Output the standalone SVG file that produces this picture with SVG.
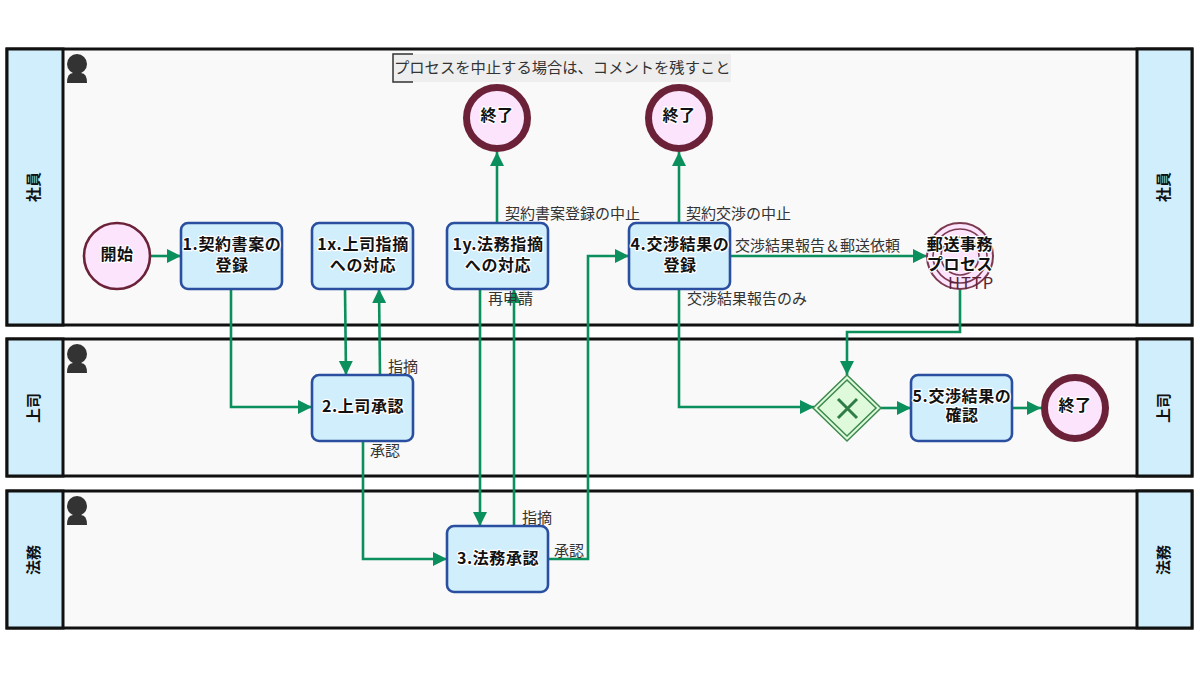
<svg xmlns="http://www.w3.org/2000/svg" width="1200" height="675" viewBox="0 0 1200 675">
<style>
text{font-family:"Noto Sans CJK JP","Liberation Sans",sans-serif}
.lane{fill:#f9f9f9;stroke:#111;stroke-width:3}
.head{fill:#d1eefc;stroke:#111;stroke-width:3}
.ht{font-size:15px;font-weight:700;fill:#111;text-anchor:middle}
.task{fill:#d1eefc;stroke:#2a4fa0;stroke-width:2.6}
.nt{font-size:16px;letter-spacing:.6px;font-weight:700;fill:#111;text-anchor:middle;paint-order:stroke;stroke:#fff;stroke-width:2.5px;stroke-linejoin:round}
.start{fill:#fde4fd;stroke:#6b2238;stroke-width:2.6}
.end{fill:#fde4fd;stroke:#6b2238;stroke-width:7}
.c{fill:none;stroke:#0b8f5c;stroke-width:2.6}
.l{font-size:15px;fill:#333}
.p{fill:#333}
</style>
<defs>
<marker id="a" markerUnits="userSpaceOnUse" markerWidth="15" markerHeight="15" refX="14" refY="7.5" orient="auto"><path d="M0 0.5L14 7.5L0 14.5Z" fill="#0b8f5c"/></marker>
<g id="person"><circle cx="77" cy="64" r="10"/><path d="M67 83Q67 73 73 73H81Q87 73 87 83Z"/></g>
</defs>
<g id="lane-1"><rect class="lane" x="7" y="49" width="1185" height="276"/><rect class="head" x="7" y="49" width="56" height="276"/><rect class="head" x="1137" y="49" width="55" height="276"/>
<text class="ht" transform="translate(34 187) rotate(-90)" y="5">社員</text><text class="ht" transform="translate(1164 187) rotate(-90)" y="5">社員</text><use href="#person" class="p"/></g>
<g id="lane-2"><rect class="lane" x="7" y="339" width="1185" height="137"/><rect class="head" x="7" y="339" width="56" height="137"/><rect class="head" x="1137" y="339" width="55" height="137"/>
<text class="ht" transform="translate(34 408) rotate(-90)" y="5">上司</text><text class="ht" transform="translate(1164 408) rotate(-90)" y="5">上司</text><use href="#person" class="p" y="290"/></g>
<g id="lane-3"><rect class="lane" x="7" y="491" width="1185" height="137"/><rect class="head" x="7" y="491" width="56" height="137"/><rect class="head" x="1137" y="491" width="55" height="137"/>
<text class="ht" transform="translate(34 560) rotate(-90)" y="5">法務</text><text class="ht" transform="translate(1164 560) rotate(-90)" y="5">法務</text><use href="#person" class="p" y="442"/></g>
<g id="connectors">
<path class="c" marker-end="url(#a)" d="M151 256H181"/>
<path class="c" marker-end="url(#a)" d="M231 289V407H312"/>
<path class="c" marker-end="url(#a)" d="M345 289L346 375"/>
<path class="c" marker-end="url(#a)" d="M380 375L379 289"/>
<path class="c" marker-end="url(#a)" d="M363 441V559H447"/>
<path class="c" marker-end="url(#a)" d="M480 289V526"/>
<path class="c" marker-end="url(#a)" d="M514 526V289"/>
<path class="c" marker-end="url(#a)" d="M497 223V152"/>
<path class="c" marker-end="url(#a)" d="M548 559H588V256H629"/>
<path class="c" marker-end="url(#a)" d="M679 223V152"/>
<path class="c" marker-end="url(#a)" d="M730 256H927"/>
<path class="c" marker-end="url(#a)" d="M679 289V407H814"/>
<path class="c" marker-end="url(#a)" d="M960 289V332H847V375"/>
<path class="c" marker-end="url(#a)" d="M881 408H911"/>
<path class="c" marker-end="url(#a)" d="M1012 408H1041"/>
</g>
<g id="note"><rect x="393" y="54" width="338" height="28" fill="#eee"/><path d="M413 54H393V82H413" fill="none" stroke="#333" stroke-width="1.5"/><text x="394" y="73" font-size="15.3" fill="#333">プロセスを中止する場合は、コメントを残すこと</text></g>
<g id="start"><circle class="start" cx="117" cy="256" r="33"/><text class="nt" x="117" y="260">開始</text></g>
<g id="task-1"><rect class="task" x="181" y="223" width="101" height="66" rx="7"/><text class="nt" x="232" y="250">1.契約書案の</text><text class="nt" x="232" y="271">登録</text></g>
<g id="task-1x"><rect class="task" x="312" y="223" width="101" height="66" rx="7"/><text class="nt" x="363" y="250">1x.上司指摘</text><text class="nt" x="363" y="271">への対応</text></g>
<g id="task-1y"><rect class="task" x="447" y="223" width="101" height="66" rx="7"/><text class="nt" x="498" y="250">1y.法務指摘</text><text class="nt" x="498" y="271">への対応</text></g>
<g id="task-4"><rect class="task" x="629" y="223" width="101" height="66" rx="7"/><text class="nt" x="680" y="250">4.交渉結果の</text><text class="nt" x="680" y="271">登録</text></g>
<g id="task-2"><rect class="task" x="312" y="375" width="101" height="66" rx="7"/><text class="nt" x="363" y="412">2.上司承認</text></g>
<g id="task-3"><rect class="task" x="447" y="526" width="101" height="66" rx="7"/><text class="nt" x="498" y="564">3.法務承認</text></g>
<g id="task-5"><rect class="task" x="911" y="375" width="101" height="66" rx="7"/><text class="nt" x="962" y="402">5.交渉結果の</text><text class="nt" x="962" y="421">確認</text></g>
<g id="end-1"><circle class="end" cx="497" cy="118" r="30.5"/><text class="nt" x="497" y="121">終了</text></g>
<g id="end-2"><circle class="end" cx="679" cy="118" r="30.5"/><text class="nt" x="679" y="121">終了</text></g>
<g id="end-3"><circle class="end" cx="1075" cy="408" r="30.5"/><text class="nt" x="1075" y="411">終了</text></g>
<g id="gateway"><path d="M847 375L881 408L847 441L813 408Z" fill="#dff9db" stroke="#3c8a4e" stroke-width="1.5"/><path d="M847 380L876 408L847 436L818 408Z" fill="none" stroke="#3c8a4e" stroke-width="1.5"/><path d="M838 399L857 418M857 399L838 418" stroke="#2f7d45" stroke-width="3" fill="none"/></g>
<g id="subprocess"><circle cx="960" cy="256" r="33" fill="#fde4fd" stroke="#7a3a50" stroke-width="2"/><circle cx="960" cy="256" r="27" fill="none" stroke="#7a3a50" stroke-width="1.6"/><circle cx="960" cy="256" r="19" fill="none" stroke="#7a3a50" stroke-width="1.6"/>
<text class="nt" x="960" y="250">郵送事務</text><text class="nt" x="960" y="270">プロセス</text><text x="971" y="289" font-size="16.5" letter-spacing="1" fill="#5a2438" text-anchor="middle" font-family="Liberation Sans">HTTP</text></g>
<g id="labels">
<text class="l" x="505" y="219">契約書案登録の中止</text>
<text class="l" x="686" y="219">契約交渉の中止</text>
<text class="l" x="735" y="251">交渉結果報告＆郵送依頼</text>
<text class="l" x="687" y="304">交渉結果報告のみ</text>
<text class="l" x="488" y="304">再申請</text>
<text class="l" x="388" y="372">指摘</text>
<text class="l" x="370" y="456">承認</text>
<text class="l" x="522" y="523">指摘</text>
<text class="l" x="554" y="556">承認</text>
</g>
</svg>
